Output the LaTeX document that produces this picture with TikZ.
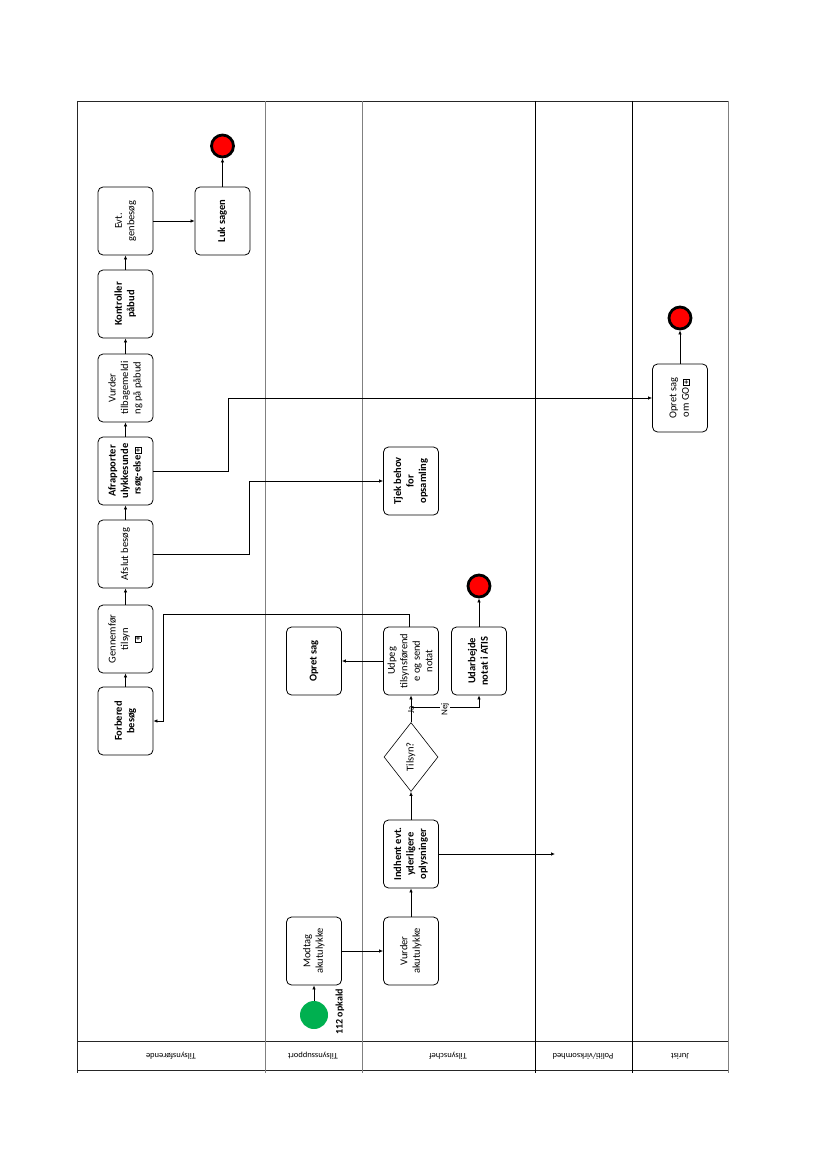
\documentclass[tikz,border=0pt]{standalone}
\usepackage{fontspec}
\setmainfont{Carlito}
\usepackage{xcolor}
\usepackage{tikz}
\usetikzlibrary{arrows.meta,shapes.geometric,calc}
\definecolor{startgreen}{RGB}{0,176,80}
\newcommand{\vtxt}[1]{\rotatebox{90}{\begin{tabular}{@{}c@{}}#1\end{tabular}}}
\setlength{\fboxsep}{0.6pt}
\setlength{\fboxrule}{0.7pt}
\newcommand{\subp}{\fbox{\footnotesize\textbf{+}}}

\begin{document}
\begin{tikzpicture}[x=1pt, y=-1pt,
    task/.style={draw, rounded corners=5pt, fill=white, minimum width=55pt, minimum height=68pt, inner sep=1pt, line width=0.8pt, font=\fontsize{10.5}{12.5}\selectfont},
    taskb/.style={task, font=\fontsize{10.5}{12.5}\selectfont\bfseries},
    gate/.style={draw, diamond, aspect=0.78, minimum width=54pt, minimum height=69pt, inner sep=0pt, line width=0.6pt, font=\fontsize{10.5}{12.5}\selectfont},
    endev/.style={circle, draw, line width=2.8pt, fill=red, minimum size=22pt, inner sep=0pt},
    startev/.style={circle, fill=startgreen, minimum size=28pt, inner sep=0pt},
    flow/.style={-{Latex[length=4pt,width=3.5pt]}, line width=0.7pt},
    lanelab/.style={rotate=180, font=\fontsize{8.5}{10}\selectfont},
    lab/.style={rotate=90, font=\fontsize{9}{10}\selectfont, inner sep=1pt}
  ]
    \useasboundingbox (0,0) rectangle (826,1169);

    % lanes
    \draw[black!85, line width=0.8pt] (77,101) -- (728,101);
    \draw[black!85, line width=0.8pt] (77,1041) -- (728,1041) (77,1070) -- (728,1070);
    \draw[black!85, line width=0.8pt] (77,101) -- (77,1073);
    \draw[gray, line width=0.8pt] (265,101) -- (265,1073) (362,101) -- (362,1073) (728,101) -- (728,1073);
    \draw[black, line width=0.8pt] (535,101) -- (535,1073) (632,101) -- (632,1073);
    \node[lanelab] (l1) at (171,1056) {Tilsynsførende};
    \node[lanelab] (l2) at (313,1056) {Tilsynssupport};
    \node[lanelab] (l3) at (448,1056) {Tilsynschef};
    \node[lanelab] (l4) at (583,1056) {Politi/virksomhed};
    \node[lanelab] (l5) at (680,1056) {Jurist};

    % Tilsynsfoerende
    \node[taskb] (forb) at (125.5,721) {\vtxt{Forbered\\besøg}};
    \node[task] (genn) at (125.5,639) {\vtxt{Gennemfør\\tilsyn\\\subp}};
    \node[task] (afsl) at (125.5,554) {\vtxt{Afslut besøg}};
    \node[taskb] (afra) at (125.5,471) {\vtxt{Afrapporter\\ulykkesunde\\rsøg-else\,\subp}};
    \node[task] (vurdt) at (125.5,388) {\vtxt{Vurder\\tilbagemeldi\\ng på påbud}};
    \node[taskb] (kontr) at (125.5,304) {\vtxt{Kontroller\\påbud}};
    \node[task] (genb) at (125.5,221) {\vtxt{Evt.\\genbesøg}};
    \node[taskb] (luk) at (222.5,221) {\vtxt{Luk sagen}};
    \node[endev] (end1) at (222.5,146) {};

    % Tilsynssupport
    \node[startev] (start) at (314,1015) {};
    \node[rotate=90, font=\fontsize{10}{12}\selectfont\bfseries] (opk) at (340,1012) {112 opkald};
    \node[task] (modt) at (314,951) {\vtxt{Modtag\\akutulykke}};
    \node[taskb] (opret) at (314,661) {\vtxt{Opret sag}};

    % Tilsynschef
    \node[task] (vurda) at (411,951) {\vtxt{Vurder\\akutulykke}};
    \node[taskb] (indh) at (411,854) {\vtxt{Indhent evt.\\yderligere\\oplysninger}};
    \node[gate] (tilsyn) at (411,757) {\vtxt{Tilsyn?}};
    \node[task] (udpeg) at (411,661) {\vtxt{Udpeg\\tilsynsførend\\e og send\\notat}};
    \node[taskb] (udarb) at (479,661) {\vtxt{Udarbejde\\notat i ATIS}};
    \node[endev] (end2) at (479,586) {};
    \node[taskb] (tjek) at (411,481) {\vtxt{Tjek behov\\for\\opsamling}};

    % Politi/virksomhed
    \coordinate (pol) at (555,854);

    % Jurist
    \node[task] (ogo) at (680,398) {\vtxt{Opret sag\\om GO\,\subp}};
    \node[endev] (end3) at (680,318) {};

    % flows
    \draw[flow] (forb) -- (genn);
    \draw[flow] (genn) -- (afsl);
    \draw[flow] (afsl) -- (afra);
    \draw[flow] (afra) -- (vurdt);
    \draw[flow] (vurdt) -- (kontr);
    \draw[flow] (kontr) -- (genb);
    \draw[flow] (genb) -- (luk);
    \draw[flow] (luk) -- (end1);
    \draw[flow] (start) -- (modt);
    \draw[flow] (modt) -- (vurda);
    \draw[flow] (vurda) -- (indh);
    \draw[flow] (indh) -- (tilsyn);
    \draw[flow] (indh.east) -- (pol);
    \draw[flow] (tilsyn) -- node[lab, pos=0.45] {Ja} (udpeg);
    \draw[flow] (tilsyn.north) -- ++(0,-15) -| node[lab, fill=white, pos=0.25, xshift=-2pt] {Nej} (udarb.south);
    \draw[flow] (udpeg) -- (opret);
    \draw[flow] (udarb) -- (end2);
    \draw[flow] ([xshift=-2pt]udpeg.north) -- ++(0,-12) -| ([xshift=10pt]forb.east) -- (forb.east);
    \draw[flow] (afsl.east) -- ++(96,0) |- (tjek.west);
    \draw[flow] (afra.east) -- ++(75,0) |- (ogo.west);
    \draw[flow] (ogo) -- (end3);
  \end{tikzpicture}
\end{document}
